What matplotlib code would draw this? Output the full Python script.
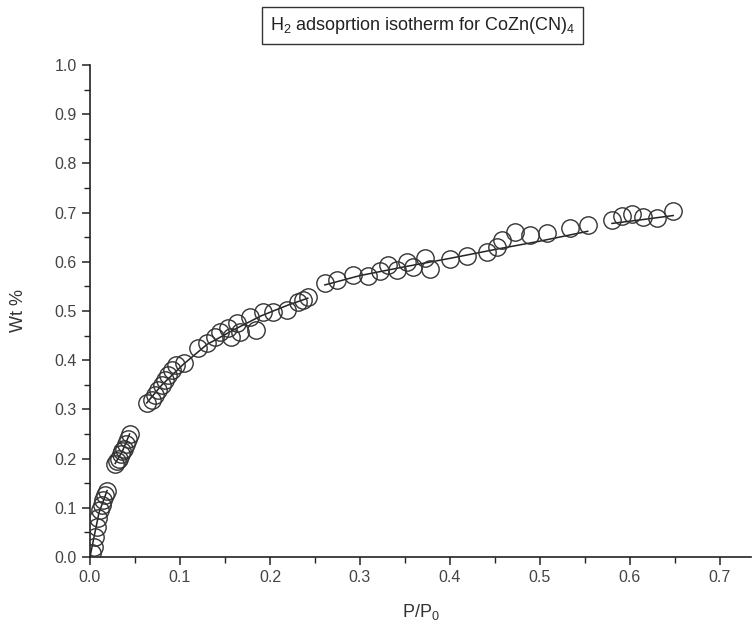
#!/usr/bin/env python3
"""H2 adsorption isotherm for CoZn(CN)4 - recreated plot"""

import matplotlib
matplotlib.use('Agg')
import matplotlib.pyplot as plt
from matplotlib.ticker import MultipleLocator

plt.rcParams['font.family'] = ['Liberation Sans', 'DejaVu Sans']
plt.rcParams['mathtext.fontset'] = 'custom'
plt.rcParams['mathtext.rm'] = 'Liberation Sans'
plt.rcParams['mathtext.default'] = 'regular'

# measured points (P/P0, wt %)
p_rel = [0.002, 0.004, 0.006, 0.008, 0.009, 0.011, 0.013, 0.015, 0.017, 0.019,
         0.028, 0.030, 0.032, 0.034, 0.036, 0.038, 0.040, 0.042, 0.044,
         0.063, 0.069, 0.072, 0.076, 0.080, 0.083, 0.087, 0.091, 0.096, 0.104,
         0.120, 0.130, 0.139, 0.144, 0.153, 0.157, 0.163, 0.167, 0.178, 0.185,
         0.192, 0.203, 0.219, 0.231, 0.237, 0.242,
         0.261, 0.274, 0.292, 0.309, 0.322, 0.331, 0.341, 0.352, 0.359, 0.372,
         0.378, 0.400, 0.419, 0.441, 0.452, 0.458, 0.472, 0.489, 0.508, 0.533,
         0.553, 0.580, 0.591, 0.602, 0.614, 0.630, 0.648]
wt = [0.008, 0.020, 0.040, 0.060, 0.080, 0.095, 0.105, 0.115, 0.125, 0.135,
      0.190, 0.195, 0.200, 0.210, 0.215, 0.220, 0.230, 0.240, 0.250,
      0.313, 0.319, 0.329, 0.339, 0.350, 0.360, 0.370, 0.380, 0.390, 0.394,
      0.425, 0.435, 0.447, 0.457, 0.465, 0.447, 0.475, 0.457, 0.488, 0.461,
      0.498, 0.498, 0.502, 0.518, 0.522, 0.528,
      0.557, 0.563, 0.573, 0.571, 0.581, 0.593, 0.583, 0.600, 0.590, 0.607,
      0.585, 0.606, 0.612, 0.620, 0.630, 0.644, 0.661, 0.654, 0.658, 0.669,
      0.675, 0.685, 0.693, 0.697, 0.691, 0.689, 0.703]

# fitted line (None = gap between segments)
fit_x = [0.0, 0.005, 0.010, 0.019, None,
         0.028, 0.036, 0.044, None,
         0.063, 0.080, 0.104, 0.130, 0.160, 0.190, 0.220, 0.242, None,
         0.261, 0.300, 0.350, 0.400, 0.450, 0.500, 0.553, None,
         0.580, 0.615, 0.648]
fit_y = [0.0, 0.045, 0.090, 0.135, None,
         0.190, 0.215, 0.250, None,
         0.313, 0.350, 0.392, 0.432, 0.462, 0.490, 0.512, 0.526, None,
         0.553, 0.572, 0.590, 0.607, 0.625, 0.642, 0.662, None,
         0.678, 0.686, 0.694]

fig = plt.figure(figsize=(7.53, 6.31), dpi=100)
ax = fig.add_axes([0.1195, 0.1173, 0.8785, 0.7797])

fx = [float('nan') if v is None else v for v in fit_x]
fy = [float('nan') if v is None else v for v in fit_y]
ax.plot(fx, fy, '-', color='#222222', linewidth=1.1, zorder=2)
ax.plot(p_rel, wt, 'o', markersize=12.5, markerfacecolor='none',
        markeredgecolor='#333333', markeredgewidth=1.0, zorder=3)

ax.set_xlim(0, 0.735)
ax.set_ylim(0, 1.0)
ax.xaxis.set_major_locator(MultipleLocator(0.1))
ax.xaxis.set_minor_locator(MultipleLocator(0.05))
ax.yaxis.set_major_locator(MultipleLocator(0.1))
ax.yaxis.set_minor_locator(MultipleLocator(0.05))
ax.xaxis.set_major_formatter(plt.FormatStrFormatter('%.1f'))
ax.yaxis.set_major_formatter(plt.FormatStrFormatter('%.1f'))

for side in ('top', 'right'):
    ax.spines[side].set_visible(False)
for side in ('left', 'bottom'):
    ax.spines[side].set_linewidth(1.2)
    ax.spines[side].set_color('#222222')

ax.tick_params(which='major', direction='out', length=6, width=1.1,
               labelsize=11.5, colors='#222222', labelcolor='#444444')
ax.tick_params(which='minor', direction='out', length=4, width=1.0, colors='#222222')

ax.set_xlabel('P/P$_0$', fontsize=13, color='#333333', labelpad=12)
ax.set_ylabel('Wt %', fontsize=13, color='#333333', labelpad=20)

fig.text(0.561, 0.960, 'H$_2$ adsoprtion isotherm for CoZn(CN)$_4$',
         ha='center', va='center', fontsize=13, color='#222222',
         bbox=dict(boxstyle='square,pad=0.45', facecolor='white',
                   edgecolor='#333333', linewidth=1.0))

plt.savefig('out.png', dpi=100)
